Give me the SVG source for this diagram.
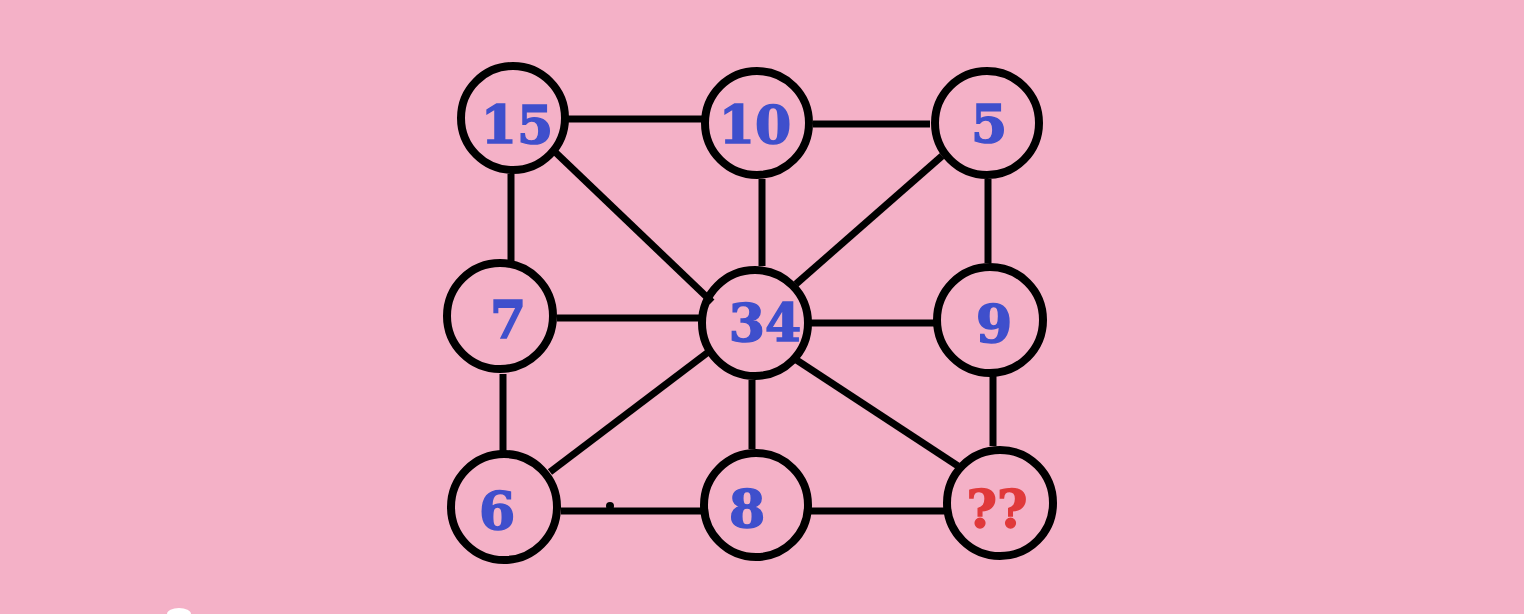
<svg xmlns="http://www.w3.org/2000/svg" width="1524" height="614" viewBox="0 0 1524 614">
<style>
.n{fill:none;stroke:#000;stroke-width:8}
.e line{stroke:#000;stroke-width:7}
.t{font-family:"DejaVu Serif","Liberation Serif",serif;font-weight:bold;font-size:52px;fill:#3F4FCC;stroke:#3F4FCC;stroke-width:1.5;text-anchor:middle}
.q{fill:#E0393A;stroke:#E0393A}
</style>
<rect width="1524" height="614" fill="#F4B1C7"/>
<ellipse cx="179" cy="614" rx="12" ry="6" fill="#FFFFFF"/>
<g id="connectors" class="e">
<line x1="568" y1="119" x2="702" y2="119"/>
<line x1="813" y1="124" x2="930" y2="124"/>
<line x1="511" y1="174" x2="511" y2="262"/>
<line x1="553" y1="150" x2="712" y2="302"/>
<line x1="762" y1="179" x2="762" y2="266"/>
<line x1="942" y1="156" x2="796" y2="284"/>
<line x1="988" y1="179" x2="988" y2="263"/>
<line x1="557" y1="318" x2="699" y2="318"/>
<line x1="811" y1="323" x2="934" y2="323"/>
<line x1="503" y1="374" x2="503" y2="451"/>
<line x1="711" y1="350" x2="550" y2="472"/>
<line x1="752" y1="380" x2="752" y2="449"/>
<line x1="795" y1="359" x2="958" y2="466"/>
<line x1="993" y1="376" x2="993" y2="446"/>
<line x1="561" y1="511" x2="701" y2="511"/>
<line x1="811" y1="511" x2="944" y2="511"/>
</g>
<circle cx="610" cy="506" r="4" fill="#000"/>
<g id="n15"><circle class="n" cx="513" cy="118" r="52"/><text class="t" x="517" y="143">15</text></g>
<g id="n10"><circle class="n" cx="757" cy="123" r="52"/><text class="t" x="755" y="143">10</text></g>
<g id="n5"><circle class="n" cx="987" cy="123" r="52"/><text class="t" x="989" y="142">5</text></g>
<g id="n7"><circle class="n" cx="500" cy="316" r="53"/><text class="t" x="508" y="338">7</text></g>
<g id="n34"><circle class="n" cx="755" cy="323" r="53"/><text class="t" x="765" y="341">34</text></g>
<g id="n9"><circle class="n" cx="990" cy="320" r="53"/><text class="t" x="994" y="342">9</text></g>
<g id="n6"><circle class="n" cx="504" cy="507" r="53"/><text class="t" x="497" y="529">6</text></g>
<g id="n8"><circle class="n" cx="756" cy="505" r="52"/><text class="t" x="747" y="527">8</text></g>
<g id="nq"><circle class="n" cx="1000" cy="503" r="53"/><text class="t q" x="997" y="527">??</text></g>
</svg>
